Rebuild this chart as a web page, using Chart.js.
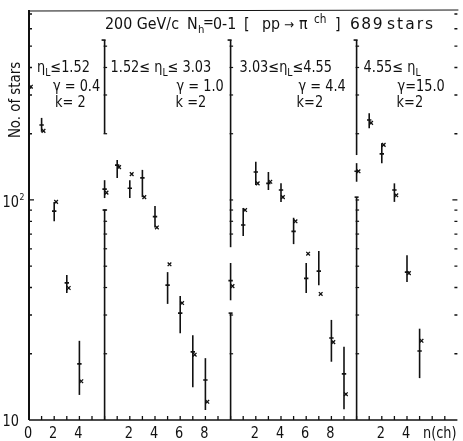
<!DOCTYPE html>
<html>
<head>
<meta charset="utf-8">
<script src="https://cdn.jsdelivr.net/npm/chart.js@4.4.1/dist/chart.umd.min.js"></script>
<style>
  html, body { margin: 0; padding: 0; background: #fff; }
  #wrap { width: 463px; height: 441px; position: relative; }
</style>
</head>
<body>
<div id="wrap"><canvas id="myChart"></canvas></div>
<script>
// four panels laid side by side on one n(ch) axis, each one starts at n=0
const panelStart = [0, 6, 16, 26];
const xMax = 34;
const yMin = 10;
const yMax = 730;

// panel 1 : eta_L <= 1.52
const p1Count = [323, 219, 89, 42, 18];
const p1Low   = [300, 204, 80, 37.8, 13];
const p1High  = [350, 236, 98, 45.6, 22.9];
const p1Pred  = [327, 206, 98, 39.8, 15];

// panel 2 : 1.52 <= eta_L <= 3.03
const p2Count = [112, 144, 113, 126, 84, 41, 30.6, 20.4, 15.2];
const p2Low   = [102, 126, 102, 103, 75, 33.7, 24.8, 14.1, 11.1];
const p2High  = [123, 152, 123, 137, 94, 47, 36.6, 24.3, 19.1];
const p2Pred  = [108, 141, 131, 103, 75, 51, 34, 19.8, 12.1];

// panel 3 : 3.03 <= eta_L <= 4.55
const p3Count = [43, 77, 134, 119, 111, 72, 44, 47.5, 23.6, 16.2];
const p3Low   = [35, 68.5, 117, 111, 98, 63, 37.8, 41, 18.4, 11.2];
const p3High  = [51.7, 92, 149, 134, 119, 83, 51.7, 58.6, 28.5, 21.5];
const p3Pred  = [40.6, 90, 119, 121, 103, 80, 57, 37.4, 22.6, 13.1];

// panel 4 : 4.55 <= eta_L
const p4Count = [135, 231, 162, 111, 47, 20.6];
const p4Low   = [121, 212, 147, 98, 42.4, 15.5];
const p4High  = [147, 248, 181, 119, 56, 26];
const p4Pred  = [135, 224, 178, 105, 46.5, 22.9];

// tick labels
const nTicks = [[0, 2, 4], [2, 4, 6, 8], [2, 4, 6, 8], [2, 4]];
const yTickValues = [10, 100];
const yMinorTicks = [20, 30, 40, 50, 60, 70, 80, 90, 200, 300, 400, 500, 600, 700];

// panel texts
const rangeBefore = ['', '1.52\u2264 ', '3.03\u2264', '4.55\u2264 '];
const rangeAfter = ['\u22641.52', '\u2264 3.03', '\u22644.55', ''];
const gammaText = ['\u03b3 = 0.4', '\u03b3 = 1.0', '\u03b3 = 4.4', '\u03b3=15.0'];
const kText = ['k= 2', 'k =2', 'k=2', 'k=2'];

// panel axes (dividers) top value and the broken part around the n=0 point
const dividerTop = 533;
const dividerGap = [null, [90, 200], [30.6, 61], [103, 160]];

const panels = [
  { count: p1Count, low: p1Low, high: p1High, pred: p1Pred },
  { count: p2Count, low: p2Low, high: p2High, pred: p2Pred },
  { count: p3Count, low: p3Low, high: p3High, pred: p3Pred },
  { count: p4Count, low: p4Low, high: p4High, pred: p4Pred },
];

const countPoints = [];
const predPoints = [];
const errBars = [];
panels.forEach((p, i) => {
  p.count.forEach((v, n) => {
    countPoints.push({ x: panelStart[i] + n, y: v });
    predPoints.push({ x: panelStart[i] + n + 0.15, y: p.pred[n] });
    errBars.push({ x: panelStart[i] + n, lo: p.low[n], hi: p.high[n] });
  });
});

const FONT = '"DejaVu Sans", "Liberation Sans", sans-serif';
let SQ = 0.86; // squeeze the text a bit, old plots use narrow lettering

function put(ctx, s, x, y, size, align) {
  ctx.save();
  ctx.font = size + 'px ' + FONT;
  const w = ctx.measureText(s).width * SQ;
  let x0 = x;
  if (align === 'center') x0 = x - w / 2;
  if (align === 'right') x0 = x - w;
  ctx.translate(x0, y);
  ctx.scale(SQ, 1);
  ctx.fillText(s, 0, 0);
  ctx.restore();
  return w;
}

function rich(ctx, parts, x, y, size) {
  let cx = x;
  parts.forEach(([s, mode]) => {
    if (mode === 'sub') cx += put(ctx, s, cx, y + 4, size * 0.72);
    else if (mode === 'sup') cx += put(ctx, s, cx, y - 6, size * 0.72);
    else cx += put(ctx, s, cx, y, size);
  });
  return cx - x;
}

const framePlugin = {
  id: 'frame',
  beforeDatasetsDraw(chart) {
    const { ctx, chartArea: a } = chart;
    const xs = chart.scales.x, ys = chart.scales.y;
    ctx.save();
    ctx.strokeStyle = '#111';
    ctx.fillStyle = '#111';
    ctx.lineCap = 'butt';

    // outer frame
    ctx.lineWidth = 2;
    ctx.beginPath();
    ctx.moveTo(a.left, a.top); ctx.lineTo(a.left, a.bottom);
    ctx.stroke();
    ctx.lineWidth = 1.5;
    ctx.beginPath();
    ctx.moveTo(a.left, a.bottom); ctx.lineTo(a.right, a.bottom);
    ctx.stroke();
    ctx.lineWidth = 1;
    ctx.beginPath();
    ctx.moveTo(a.left, a.top + 1); ctx.lineTo(a.right + 1, a.top);
    ctx.stroke();

    // bottom ticks, every unit of n
    ctx.lineWidth = 1.3;
    for (let v = 1; v < xMax; v++) {
      const px = xs.getPixelForValue(v);
      ctx.beginPath();
      ctx.moveTo(px, a.bottom); ctx.lineTo(px, a.bottom - 4);
      ctx.stroke();
    }

    // left and right log ticks
    const allY = yMinorTicks.concat([100]);
    allY.forEach(v => {
      const py = ys.getPixelForValue(v);
      const len = v === 100 ? 5 : 3;
      ctx.beginPath();
      ctx.moveTo(a.left, py); ctx.lineTo(a.left + len, py);
      ctx.moveTo(a.right, py); ctx.lineTo(a.right - len, py);
      ctx.stroke();
    });

    // panel dividers with their own ticks
    for (let i = 1; i < panelStart.length; i++) {
      const px = xs.getPixelForValue(panelStart[i]);
      const top = ys.getPixelForValue(dividerTop);
      const g = dividerGap[i];
      const segs = [[top, ys.getPixelForValue(g[1])], [ys.getPixelForValue(g[0]), a.bottom]];
      ctx.lineWidth = 1.6;
      segs.forEach(([y0, y1], si) => {
        ctx.beginPath();
        ctx.moveTo(px, y0); ctx.lineTo(px, y1);
        ctx.stroke();
        ctx.beginPath();
        if (si === 0) { ctx.moveTo(px - 3, y0); ctx.lineTo(px + 1, y0); }
        else { ctx.moveTo(px - 2, y0); ctx.lineTo(px + 2, y0); }
        ctx.stroke();
      });
      ctx.lineWidth = 1.2;
      allY.forEach(v => {
        if (v > dividerTop) return;
        if (v > g[0] && v < g[1]) return;
        const py = ys.getPixelForValue(v);
        ctx.beginPath();
        ctx.moveTo(px - 1, py); ctx.lineTo(px + 2.5, py);
        ctx.stroke();
      });
    }

    // error bars of the measured points
    ctx.lineWidth = 1.6;
    errBars.forEach(e => {
      const px = xs.getPixelForValue(e.x);
      ctx.beginPath();
      ctx.moveTo(px, ys.getPixelForValue(e.hi));
      ctx.lineTo(px, ys.getPixelForValue(e.lo));
      ctx.stroke();
    });
    ctx.restore();
  },
  afterDraw(chart) {
    const { ctx } = chart;
    const xs = chart.scales.x, ys = chart.scales.y;
    ctx.save();
    ctx.fillStyle = '#111';
    ctx.textBaseline = 'alphabetic';

    // title line, typed in spaced groups as on the original
    SQ = 0.92;
    put(ctx, '200 GeV/c', 105, 29, 15.5);
    put(ctx, 'N', 187, 29, 15.5);
    put(ctx, 'h', 198, 33, 11);
    put(ctx, '=', 203, 27, 14);
    put(ctx, '0-1', 213, 29, 15.5);
    put(ctx, '[', 244, 29, 15.5);
    put(ctx, 'pp', 262, 29, 15.5);
    put(ctx, '\u2192', 284, 29, 13);
    put(ctx, '\u03c0', 299, 29, 15.5);
    put(ctx, 'ch', 314, 23, 11.5);
    put(ctx, ']', 335, 29, 15.5);
    SQ = 1;
    ctx.letterSpacing = '1.5px';
    put(ctx, '689', 350, 29, 15.5);
    ctx.letterSpacing = '2px';
    put(ctx, 'stars', 387, 29, 15.5);
    ctx.letterSpacing = '0px';
    SQ = 0.86;

    // panel labels
    const lx = [[8, 24, 26], [6, 72, 71], [9, 68, 66], [7, 41, 40]];
    panelStart.forEach((s, i) => {
      const px = xs.getPixelForValue(s);
      rich(ctx, [[rangeBefore[i], 'n'], ['\u03b7', 'n'], ['L', 'sub'], [rangeAfter[i], 'n']],
        px + lx[i][0], 72, 15);
      put(ctx, gammaText[i], px + lx[i][1], 91, 15);
      put(ctx, kText[i], px + lx[i][2], 107, 15);
    });

    // y tick labels
    yTickValues.forEach(v => {
      const py = ys.getPixelForValue(v);
      if (v === 100) {
        put(ctx, '10', 19, py + 7, 15, 'right');
        put(ctx, '2', 19.5, py + 0, 9);
      } else {
        put(ctx, '10', 19, py + 6, 15, 'right');
      }
    });

    // x tick labels
    nTicks.forEach((list, i) => {
      list.forEach(n => {
        put(ctx, String(n), xs.getPixelForValue(panelStart[i] + n) - 1, 438, 15, 'center');
      });
    });
    put(ctx, 'n(ch)', xs.getPixelForValue(32.6), 438, 15, 'center');

    // y axis title
    ctx.save();
    ctx.translate(20, 100);
    ctx.rotate(-Math.PI / 2);
    put(ctx, 'No. of stars', 0, 0, 15.5, 'center');
    ctx.restore();

    ctx.restore();
  }
};

const config = {
  type: 'scatter',
  data: {
    datasets: [
      {
        label: 'data',
        data: countPoints,
        pointStyle: 'line',
        radius: 2.2,
        borderWidth: 1.6,
        borderColor: '#111',
        backgroundColor: '#111'
      },
      {
        label: 'prediction',
        data: predPoints,
        pointStyle: 'crossRot',
        radius: 2.6,
        borderWidth: 1.3,
        borderColor: '#111',
        backgroundColor: '#111'
      }
    ]
  },
  options: {
    responsive: true,
    maintainAspectRatio: false,
    animation: false,
    layout: { padding: { left: 29, right: 1, top: 10, bottom: 21 } },
    plugins: { legend: { display: false }, tooltip: { enabled: false } },
    scales: {
      x: { type: 'linear', min: 0, max: xMax, display: false },
      y: { type: 'logarithmic', min: yMin, max: yMax, display: false }
    }
  },
  plugins: [framePlugin]
};

const ctx = document.getElementById('myChart').getContext('2d');
const myChart = new Chart(ctx, config);
</script>
</body>
</html>
